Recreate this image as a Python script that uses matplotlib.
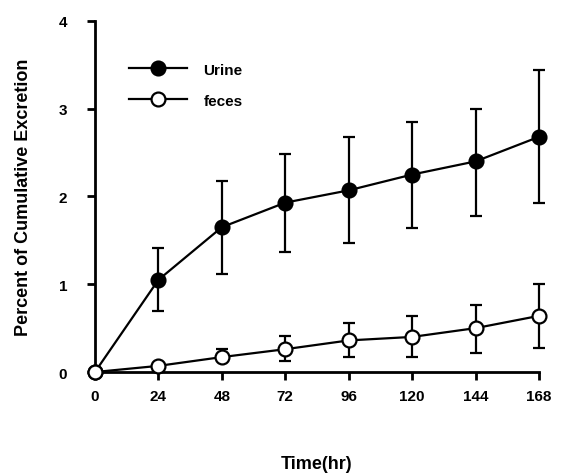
import numpy as np
import matplotlib.pyplot as plt

plt.rcParams['font.family'] = ['Liberation Sans', 'DejaVu Sans']
plt.rcParams['font.weight'] = 'bold'

hours = [0, 24, 48, 72, 96, 120, 144, 168]
urine = [0, 1.05, 1.65, 1.93, 2.07, 2.25, 2.40, 2.68]
urine_lo = [0, 0.35, 0.53, 0.56, 0.60, 0.61, 0.62, 0.76]
urine_hi = [0, 0.36, 0.53, 0.55, 0.61, 0.60, 0.60, 0.76]
feces = [0, 0.07, 0.17, 0.26, 0.36, 0.40, 0.50, 0.64]
feces_lo = [0, 0.0, 0.0, 0.14, 0.19, 0.23, 0.28, 0.37]
feces_hi = [0, 0.0, 0.09, 0.15, 0.20, 0.24, 0.26, 0.36]

fig = plt.figure(figsize=(5.79, 4.77), dpi=100)
ax = fig.add_axes([0.164, 0.218, 0.767, 0.736])

kw = dict(color='black', lw=1.6, marker='o', ms=10, mec='black', mew=1.6,
          capsize=4, capthick=1.6, elinewidth=1.6, zorder=3, clip_on=False)
ax.errorbar(hours, urine, yerr=[urine_lo, urine_hi], mfc='black', label='Urine', **kw)
ax.errorbar(hours, feces, yerr=[feces_lo, feces_hi], mfc='white', label='feces', **kw)

ax.set_xlim(0, 168)
ax.set_ylim(0, 4)
ax.set_xticks(hours)
ax.set_yticks([0, 1, 2, 3, 4])
for s in ['top', 'right']:
    ax.spines[s].set_visible(False)
for s in ['left', 'bottom']:
    ax.spines[s].set_linewidth(2)
ax.tick_params(width=2, length=6, labelsize=11)
ax.tick_params(axis='y', pad=14)
ax.tick_params(axis='x', pad=6)
for lab in ax.get_xticklabels() + ax.get_yticklabels():
    lab.set_fontweight('bold')

ax.set_xlabel('Time(hr)', fontsize=13, fontweight='bold', labelpad=38)
ax.set_ylabel('Percent of Cumulative Excretion', fontsize=13, fontweight='bold', labelpad=19)

handles, labels = ax.get_legend_handles_labels()
handles = [h[0] for h in handles]
ax.legend(handles, labels, loc='upper left', bbox_to_anchor=(0.045, 0.92), frameon=False,
          handlelength=3.8, fontsize=11, labelspacing=1.1, handletextpad=1.1)

fig.savefig('out.png', dpi=100)
